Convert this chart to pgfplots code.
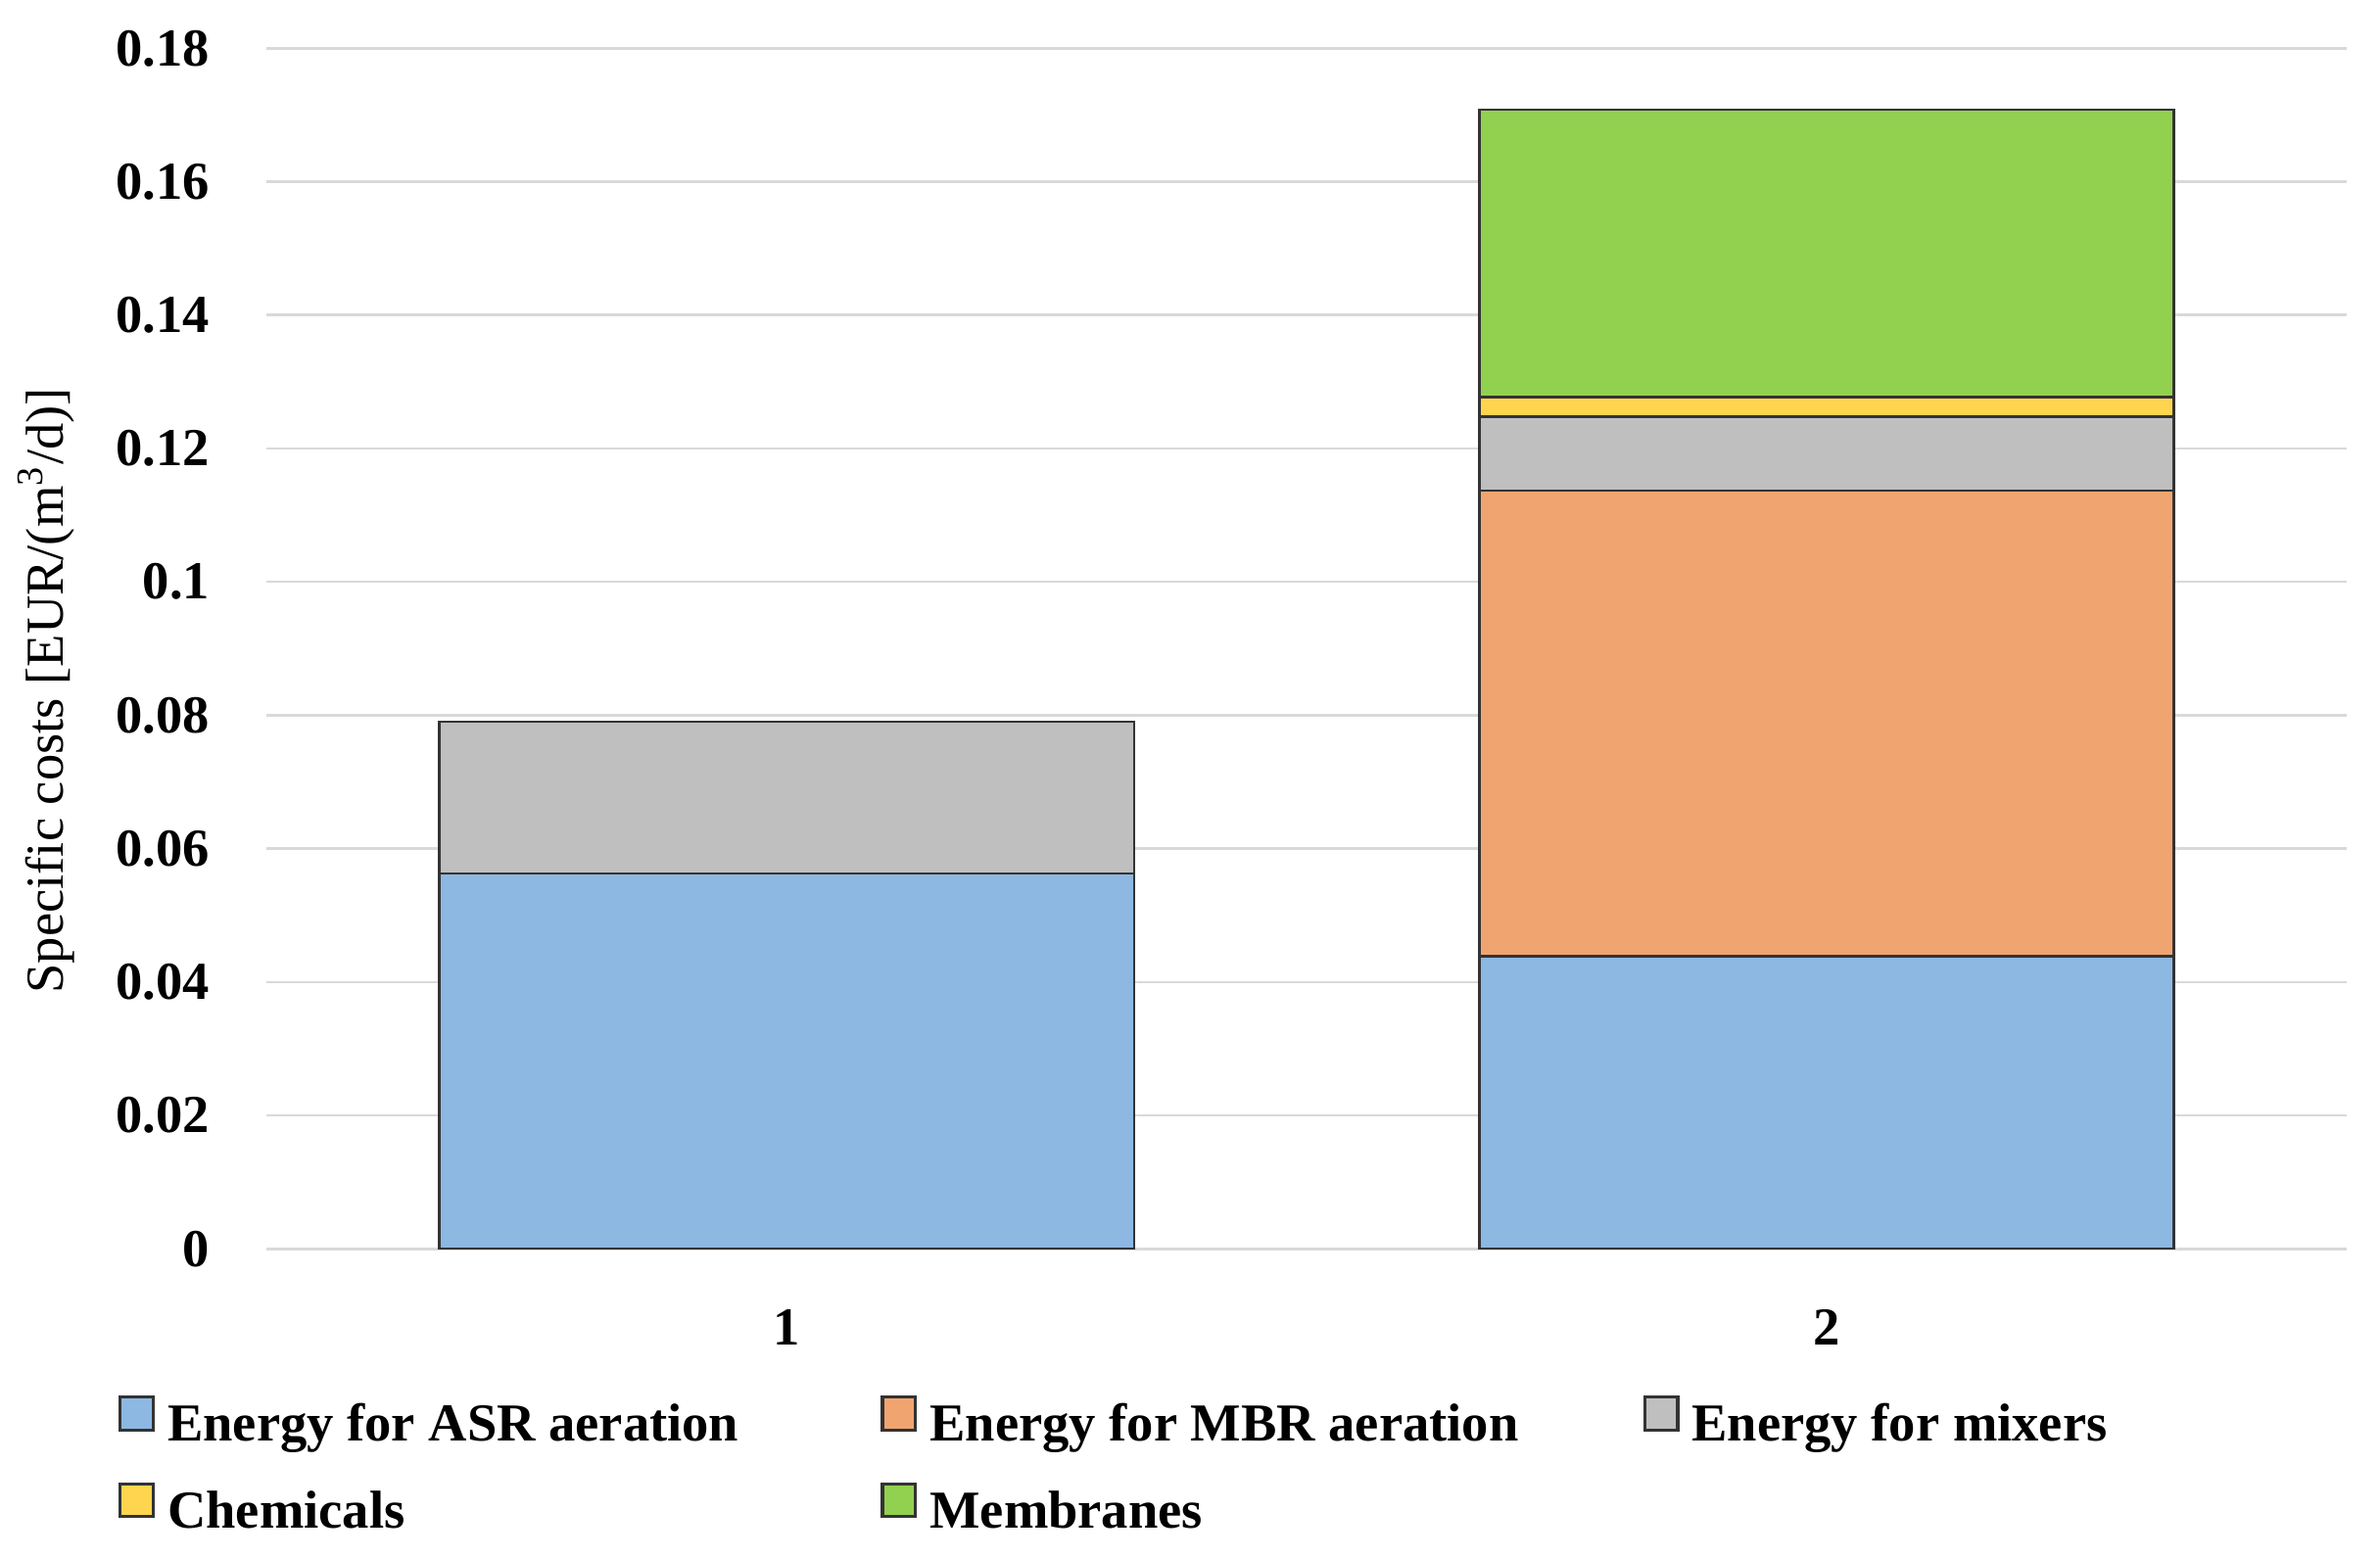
\documentclass[border=0pt]{standalone}
\usepackage{fontspec}
\setmainfont{Liberation Serif}
\usepackage{pgfplots}
\pgfplotsset{compat=1.18}
\definecolor{cASR}{HTML}{8DB8E2}
\definecolor{cMBR}{HTML}{F0A570}
\definecolor{cMix}{HTML}{BFBFBF}
\definecolor{cChem}{HTML}{FFD54F}
\definecolor{cMem}{HTML}{92D050}
\definecolor{gridgray}{HTML}{D9D9D9}
\begin{document}
\begin{tikzpicture}
\begin{axis}[
  scale only axis, width=408.9pt, height=236.06pt,
  ybar stacked, bar width=0.668,
  xmin=0.5, xmax=2.5, ymin=0, ymax=0.18,
  ytick={0,0.02,0.04,0.06,0.08,0.1,0.12,0.14,0.16,0.18},
  xtick={1,2},
  ymajorgrids, grid style={draw=gridgray, line width=0.5pt},
  axis lines*=left,
  x axis line style={draw=gridgray, line width=0.5pt},
  y axis line style={draw=none},
  major tick length=0pt, tick style={draw=none},
  /pgf/number format/assume math mode=true,
  /pgf/number format/fixed, /pgf/number format/precision=2,
  tick label style={font=\fontsize{10.5}{12}\selectfont\bfseries},
  yticklabel style={xshift=-7.7pt},
  xticklabel style={yshift=-8.5pt},
  ylabel={Specific costs [EUR/(m\textsuperscript{3}/d)]},
  every axis y label/.style={at={([xshift=-43.35pt]rel axis cs:0,0.465)}, rotate=90, anchor=center, font=\fontsize{10.5}{12}\selectfont},
  legend columns=3,
  legend cell align=left,
  legend style={at={(-0.0712,-0.1165)}, anchor=north west, draw=none, fill=none,
    inner sep=0pt, outer sep=0pt, /tikz/column sep=0pt, /tikz/row sep=1.4pt,
    nodes={inner xsep=2.5pt, inner ysep=3.33pt, text height=7pt, text depth=2pt,
      font=\fontsize{10.5}{12}\selectfont\bfseries}},
  legend image code/.code={\draw[#1, line width=0.6pt] (0pt,-0.3pt) rectangle (6.5pt,6.2pt);},
]
\addplot[fill=cASR, draw=black!80, line width=0.5pt] coordinates {(1,0.0563) (2,0.0439)};
\addlegendentry{\makebox[137.75pt][l]{Energy for ASR aeration}}
\addplot[fill=cMBR, draw=black!80, line width=0.5pt] coordinates {(1,0) (2,0.0698)};
\addlegendentry{\makebox[137.75pt][l]{Energy for MBR aeration}}
\addplot[fill=cMix, draw=black!80, line width=0.5pt] coordinates {(1,0.0227) (2,0.0111)};
\addlegendentry{\makebox[137.75pt][l]{Energy for mixers}}
\addplot[fill=cChem, draw=black!80, line width=0.5pt] coordinates {(1,0) (2,0.0029)};
\addlegendentry{\makebox[137.75pt][l]{Chemicals}}
\addplot[fill=cMem, draw=black!80, line width=0.5pt] coordinates {(1,0) (2,0.0431)};
\addlegendentry{\makebox[137.75pt][l]{Membranes}}
\end{axis}
\pgfresetboundingbox
\path[use as bounding box] (-52.46pt,-60.66pt) rectangle (415.45pt,245.55pt);
\end{tikzpicture}
\end{document}
